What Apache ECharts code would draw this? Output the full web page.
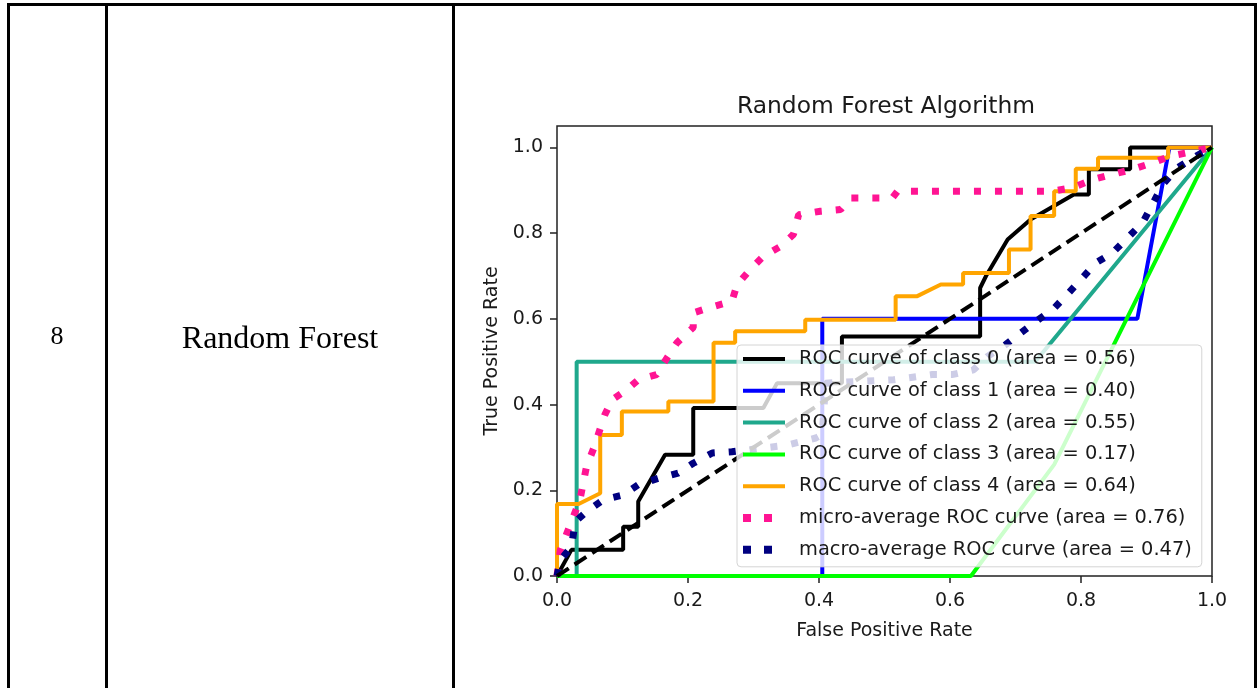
<!DOCTYPE html>
<html>
<head>
<meta charset="utf-8">
<script src="https://cdn.jsdelivr.net/npm/echarts@6/dist/echarts.min.js"></script>
<style>
html, body { margin: 0; padding: 0; background: #fff; }
#main { width: 1257px; height: 688px; }
</style>
</head>
<body>
<div id="main"></div>
<script>
// tick values on both axes
const xTicks = [0, 0.2, 0.4, 0.6, 0.8, 1.0]
const yTicks = [0, 0.2, 0.4, 0.6, 0.8, 1.0]

// ROC points (fpr = x, tpr = y)
const class0Fpr = [0, 0.022, 0.101, 0.101, 0.124, 0.124, 0.165, 0.208, 0.208, 0.315, 0.336, 0.435, 0.435, 0.646, 0.646, 0.655, 0.688, 0.723, 0.789, 0.812, 0.812, 0.875, 0.875, 1]
const class0Tpr = [0, 0.061, 0.061, 0.115, 0.115, 0.174, 0.283, 0.283, 0.392, 0.392, 0.45, 0.45, 0.559, 0.559, 0.672, 0.70, 0.785, 0.832, 0.89, 0.89, 0.949, 0.949, 1, 1]

const class1Fpr = [0, 0.405, 0.405, 0.886, 0.935, 1]
const class1Tpr = [0, 0, 0.6, 0.6, 1, 1]

const class2Fpr = [0, 0.03, 0.03, 0.73, 1]
const class2Tpr = [0, 0, 0.5, 0.5, 1]

const class3Fpr = [0, 0.632, 0.759, 1]
const class3Tpr = [0, 0, 0.26, 1]

const class4Fpr = [0, 0, 0.033, 0.066, 0.066, 0.099, 0.099, 0.17, 0.17, 0.239, 0.239, 0.272, 0.272, 0.379, 0.379, 0.517, 0.517, 0.55, 0.586, 0.62, 0.62, 0.69, 0.69, 0.723, 0.723, 0.759, 0.759, 0.792, 0.792, 0.826, 0.826, 0.933, 0.933, 1]
const class4Tpr = [0, 0.168, 0.168, 0.193, 0.329, 0.329, 0.384, 0.384, 0.407, 0.407, 0.544, 0.544, 0.571, 0.571, 0.598, 0.598, 0.653, 0.653, 0.68, 0.68, 0.707, 0.707, 0.762, 0.762, 0.84, 0.84, 0.898, 0.898, 0.95, 0.95, 0.976, 0.976, 1, 1]

const microFpr = [0, 0.005, 0.035, 0.045, 0.056, 0.073, 0.084, 0.107, 0.124, 0.152, 0.168, 0.183, 0.208, 0.208, 0.239, 0.267, 0.275, 0.295, 0.315, 0.341, 0.361, 0.369, 0.402, 0.433, 0.448, 0.512, 0.52, 0.757, 0.787, 0.818, 0.848, 0.879, 0.909, 0.937, 0.97, 1]
const microTpr = [0, 0.06, 0.178, 0.255, 0.298, 0.376, 0.411, 0.435, 0.458, 0.47, 0.509, 0.544, 0.58, 0.614, 0.629, 0.641, 0.68, 0.715, 0.746, 0.769, 0.797, 0.843, 0.851, 0.855, 0.882, 0.882, 0.898, 0.898, 0.906, 0.925, 0.937, 0.949, 0.964, 0.98, 0.99, 1]

const macroFpr = [0, 0.005, 0.022, 0.028, 0.045, 0.071, 0.101, 0.124, 0.155, 0.185, 0.208, 0.237, 0.267, 0.35, 0.395, 0.405, 0.41, 0.514, 0.573, 0.603, 0.636, 0.657, 0.685, 0.708, 0.733, 0.759, 0.779, 0.8, 0.823, 0.848, 0.871, 0.894, 0.909, 0.925, 0.948, 0.976, 1]
const macroTpr = [0, 0.037, 0.068, 0.127, 0.15, 0.178, 0.189, 0.213, 0.228, 0.24, 0.263, 0.287, 0.29, 0.305, 0.322, 0.33, 0.45, 0.458, 0.47, 0.47, 0.481, 0.512, 0.54, 0.567, 0.596, 0.625, 0.657, 0.692, 0.731, 0.754, 0.789, 0.824, 0.867, 0.914, 0.953, 0.98, 1]

const chanceFpr = [0, 1]
const chanceTpr = [0, 1]

const names = [
  'ROC curve of class 0 (area = 0.56)',
  'ROC curve of class 1 (area = 0.40)',
  'ROC curve of class 2 (area = 0.55)',
  'ROC curve of class 3 (area = 0.17)',
  'ROC curve of class 4 (area = 0.64)',
  'micro-average ROC curve (area = 0.76)',
  'macro-average ROC curve (area = 0.47)'
]

const colors = ['#000000', '#0000ff', '#1fa88c', '#00ff00', '#ffa500', '#ff1493', '#000080']
const font = 'DejaVu Sans'
const ink = '#1a1a1a'

function pairs(xs, ys) {
  return xs.map((x, i) => [x, ys[i]])
}

function curve(i, xs, ys, dotted) {
  return {
    name: names[i],
    type: 'line',
    data: pairs(xs, ys),
    symbol: 'none',
    silent: true,
    animation: false,
    itemStyle: { color: colors[i] },
    lineStyle: dotted
      ? { color: colors[i], width: 7, type: [7, 14], cap: 'butt' }
      : { color: colors[i], width: 4 }
  }
}

// legend handles: a bar for the solid curves, two squares for the dotted ones
const lineIcon = 'path://M0,2h42v4h-42z M51,0h0v8h0z'
const dotIcon = 'path://M0,0h8v8h-8z M21,0h8v8h-8z M51,0h0v8h0z'

const axisText = { fontFamily: font, fontSize: 19, color: ink }

const chart = echarts.init(document.getElementById('main'))
chart.setOption({
  animation: false,
  backgroundColor: '#fff',
  title: {
    text: 'Random Forest Algorithm',
    left: 886,
    top: 95,
    padding: 0,
    textAlign: 'center',
    textStyle: { fontFamily: font, fontSize: 23.4, fontWeight: 'normal', color: ink }
  },
  grid: {
    left: 557,
    right: 45,
    top: 126,
    bottom: 112,
    show: true,
    borderColor: '#222',
    borderWidth: 1.5,
    containLabel: false,
    outerBoundsMode: 'none'
  },
  legend: {
    orient: 'vertical',
    left: 737,
    top: 345,
    padding: [3, 10, 6, 6],
    itemGap: 9.8,
    itemWidth: 51,
    itemHeight: 8,
    selectedMode: false,
    backgroundColor: 'rgba(255,255,255,0.8)',
    borderColor: '#d4d4d4',
    borderWidth: 1,
    borderRadius: 4,
    itemStyle: { borderWidth: 0 },
    textStyle: { fontFamily: font, fontSize: 19.4, color: ink, lineHeight: 22 },
    data: names.map((n, i) => ({ name: n, icon: i < 5 ? lineIcon : dotIcon }))
  },
  xAxis: {
    type: 'value',
    min: 0,
    max: 1,
    interval: 0.2,
    name: 'False Positive Rate',
    nameLocation: 'middle',
    nameGap: 46,
    nameTextStyle: axisText,
    axisLine: { show: false },
    axisTick: { show: true, length: 7, customValues: xTicks, lineStyle: { color: '#222', width: 1.5 } },
    axisLabel: Object.assign({ margin: 16, customValues: xTicks, formatter: v => v.toFixed(1) }, axisText),
    splitLine: { show: false }
  },
  yAxis: {
    type: 'value',
    min: 0,
    max: 1.05,
    interval: 0.2,
    name: 'True Positive Rate',
    nameLocation: 'middle',
    nameGap: 55,
    nameTextStyle: axisText,
    axisLine: { show: false },
    axisTick: { show: true, length: 7, customValues: yTicks, lineStyle: { color: '#222', width: 1.5 } },
    axisLabel: Object.assign({ margin: 14, customValues: yTicks, formatter: v => v.toFixed(1) }, axisText),
    splitLine: { show: false }
  },
  series: [
    curve(0, class0Fpr, class0Tpr),
    curve(1, class1Fpr, class1Tpr),
    curve(2, class2Fpr, class2Tpr),
    curve(3, class3Fpr, class3Tpr),
    curve(4, class4Fpr, class4Tpr),
    curve(5, microFpr, microTpr, true),
    curve(6, macroFpr, macroTpr, true),
    {
      // chance diagonal, no legend entry
      type: 'line',
      data: pairs(chanceFpr, chanceTpr),
      symbol: 'none',
      silent: true,
      lineStyle: { color: '#000', width: 4, type: [14, 7], cap: 'butt' }
    }
  ],
  // the table around the chart
  graphic: [
    { type: 'rect', shape: { x: 7, y: 3, width: 1250, height: 3 }, style: { fill: '#000' } },
    { type: 'rect', shape: { x: 7, y: 3, width: 3, height: 685 }, style: { fill: '#000' } },
    { type: 'rect', shape: { x: 105, y: 3, width: 3, height: 685 }, style: { fill: '#000' } },
    { type: 'rect', shape: { x: 452, y: 3, width: 3, height: 685 }, style: { fill: '#000' } },
    { type: 'rect', shape: { x: 1254, y: 3, width: 3, height: 685 }, style: { fill: '#000' } },
    {
      type: 'text',
      style: { text: '8', x: 57, y: 337, font: '26px "Liberation Serif"', fill: '#000', textAlign: 'center', textVerticalAlign: 'middle' }
    },
    {
      type: 'text',
      style: { text: 'Random Forest', x: 280, y: 340, font: '32px "Liberation Serif"', fill: '#000', textAlign: 'center', textVerticalAlign: 'middle' }
    }
  ]
})
</script>
</body>
</html>
